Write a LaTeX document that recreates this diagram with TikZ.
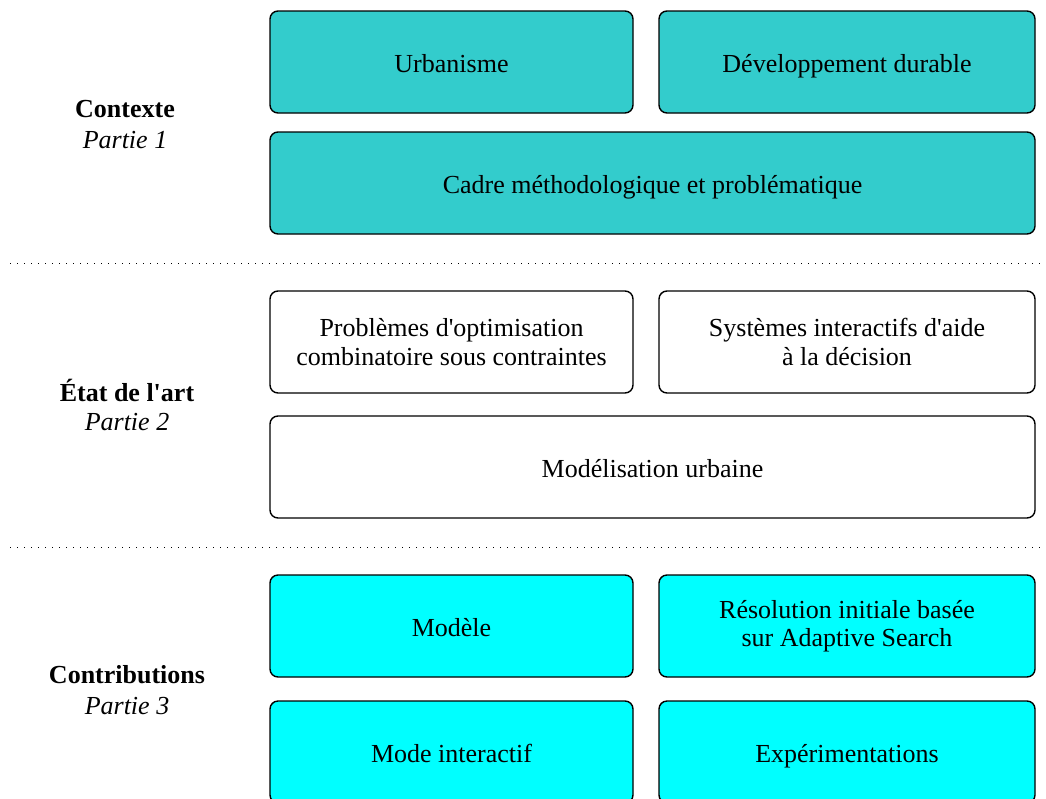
\documentclass[tikz,border=0pt]{standalone}
\usepackage{fontspec}
\setmainfont{Liberation Serif}[Ligatures=TeXOff]
\begin{document}
\begin{tikzpicture}[x=1pt,y=-1pt,
  box/.style={draw=black,line width=1.4pt,rounded corners=8pt,align=center,inner sep=0pt,font=\fontsize{26}{28.5}\selectfont},
  oneline/.style={text height=20pt,text depth=0pt},
  twoline/.style={yshift=-1pt},
  teal/.style={box,fill=tealc},
  cyanb/.style={box,fill=cyanc},
  white/.style={box,fill=white},
  lab/.style={font=\fontsize{26}{28}\selectfont\bfseries},
  part/.style={font=\fontsize{26}{28}\selectfont\itshape},
  sep/.style={line width=1pt,dash pattern=on 1pt off 6pt}]
\definecolor{tealc}{HTML}{33CCCC}
\definecolor{cyanc}{HTML}{00FFFF}
\useasboundingbox (0,0) rectangle (1046,798);
\clip (0,0) rectangle (1046,798);
% row 1
\node[teal,oneline,minimum width=363pt,minimum height=102pt] (urb) at (451.5,62) {Urbanisme};
\node[teal,oneline,minimum width=376pt,minimum height=102pt] (dev) at (847,62) {Développement durable};
\node[teal,oneline,minimum width=765pt,minimum height=102pt] (cad) at (652.5,183) {Cadre méthodologique et problématique};
% row 2
\node[white,minimum width=363pt,minimum height=102pt] (pb) at (451.5,342) {Problèmes d'optimisation\\combinatoire sous contraintes};
\node[white,minimum width=376pt,minimum height=102pt] (sys) at (847,342) {Systèmes interactifs d'aide\\à la décision};
\node[white,oneline,minimum width=765pt,minimum height=102pt] (mod) at (652.5,467) {Modélisation urbaine};
% row 3
\node[cyanb,oneline,minimum width=363pt,minimum height=102pt] (mdl) at (451.5,626) {Modèle};
\node[cyanb,minimum width=376pt,minimum height=102pt] (res) at (847,626) {Résolution initiale basée\\sur Adaptive Search};
\node[cyanb,oneline,minimum width=363pt,minimum height=102pt] (mi) at (451.5,752) {Mode interactif};
\node[cyanb,oneline,minimum width=376pt,minimum height=102pt] (exp) at (847,752) {Expérimentations};
% labels
\node[lab] (c1) at (125,109) {Contexte};
\node[part] (p1) at (125,140) {Partie 1};
\node[lab] (c2) at (127,390) {État de l'art};
\node[part] (p2) at (127,422) {Partie 2};
\node[lab] (c3) at (127,675) {Contributions};
\node[part] (p3) at (127,706) {Partie 3};
% separators
\coordinate (s1a) at (10,263); \coordinate (s1b) at (1046,263);
\coordinate (s2a) at (10,547); \coordinate (s2b) at (1046,547);
\draw[sep] (s1a) -- (s1b);
\draw[sep] (s2a) -- (s2b);
\end{tikzpicture}
\end{document}
